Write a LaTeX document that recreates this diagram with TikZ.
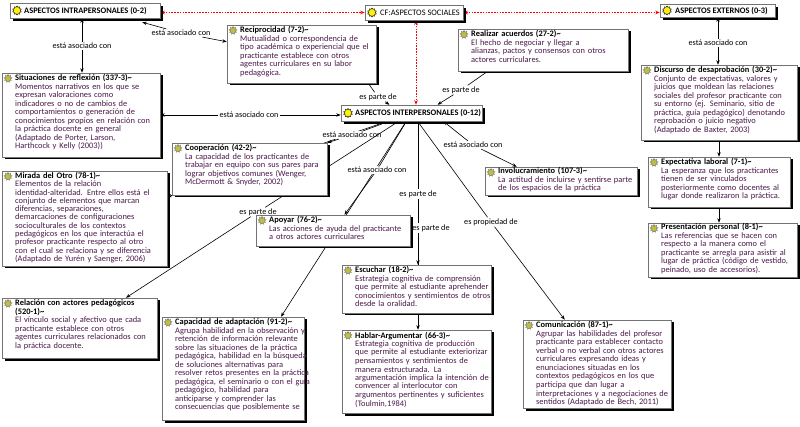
\documentclass[tikz,border=0pt]{standalone}
\usepackage{fontspec}
\setmainfont{Carlito}
\usetikzlibrary{shadows,backgrounds,fit,arrows.meta,shapes.geometric,calc}
\definecolor{bodytext}{RGB}{75,25,75}
\definecolor{boxborder}{RGB}{115,115,115}
\definecolor{iconfill}{RGB}{190,190,70}
\newcommand\bodyfnt{\fontsize{8.4}{8.5}\selectfont\lineskiplimit=-6pt\relax}
\newcommand\tightfnt{\fontsize{8.4}{8.3}\selectfont\lineskiplimit=-6pt\relax}
\newcommand\labfnt{\fontsize{8.2}{9}\selectfont}
\newcommand\ttl[1]{{\color{black}\bfseries #1}}
\begin{document}
\begin{tikzpicture}[x=1pt,y=-1pt,
  box/.style={draw=boxborder, line width=0.5pt, fill=white, inner sep=0pt,
    drop shadow={shadow xshift=2.5pt, shadow yshift=-2.5pt, opacity=1, fill=black}},
  cbox/.style={draw=black!55, line width=0.5pt, fill=white, inner sep=0pt,
    drop shadow={shadow xshift=3pt, shadow yshift=-3pt, opacity=1, fill=black}},
  txt/.style={anchor=base west, inner sep=0pt, text width=200pt, align=left, font=\bodyfnt, text=bodytext},
  ctxt/.style={anchor=base west, inner sep=0pt, font=\bodyfnt, text=black},
  lab/.style={font=\labfnt, inner sep=1pt, fill=white, text=black},
  conn/.style={line width=0.6pt, draw=black},
  tip/.style={-{Stealth[length=4.5pt,width=3.4pt]}},
  tipb/.style={{Stealth[length=4.5pt,width=3.4pt]}-},
  redl/.style={line width=0.7pt, draw=red, dash pattern=on 1.6pt off 1.2pt,
    {Stealth[length=4.5pt,width=3.5pt]}-{Stealth[length=4.5pt,width=3.5pt]}},
  ricon/.style={star, star points=9, star point ratio=1.6, minimum size=8pt, inner sep=0pt,
    fill=iconfill, draw=black!65, line width=0.3pt},
  sicon/.style={star, star points=10, star point ratio=1.35, minimum size=9pt, inner sep=0pt,
    fill=yellow, draw=black!80, line width=0.6pt}
]
\useasboundingbox (0,0) rectangle (800,427);

% ---------- concept boxes ----------
\node[cbox, fit={(10,3)(160,18)}] (intra) {};
\node[sicon] (ic_intra) at (17,10.5) {};
\node[ctxt] (t_intra) at (24,13.5) {\bfseries ASPECTOS INTRAPERSONALES (0-2)};

\node[cbox, fit={(365,5)(463,20)}] (cf) {};
\node[sicon] (ic_cf) at (372,12.5) {};
\node[ctxt] (t_cf) at (380,15.5) {CF:ASPECTOS SOCIALES};

\node[cbox, fit={(660,4)(775,17)}] (ext) {};
\node[sicon] (ic_ext) at (667,10.5) {};
\node[ctxt] (t_ext) at (675,13.5) {\bfseries ASPECTOS EXTERNOS (0-3)};

\node[cbox, fit={(341,105)(482,121)}] (inter) {};
\node[sicon] (ic_inter) at (348,113) {};
\node[ctxt] (t_inter) at (355,116) {\bfseries ASPECTOS INTERPERSONALES (0-12)};

% ---------- resource boxes ----------
\node[box, fit={(227,25)(376,83)}] (recip) {};
\node[ricon] (ic_recip) at (233,30.5) {};
\node[txt] (t_recip) at (240,33) {\ttl{Reciprocidad (7-2)\textasciitilde}\\
Mutualidad o correspondencia de\\
tipo académica o experiencial que el\\
practicante establece con otros\\
agentes curriculares en su labor\\
pedagógica.};

\node[box, fit={(458,29)(628,71)}] (acuer) {};
\node[ricon] (ic_acuer) at (464,34.5) {};
\node[txt] (t_acuer) at (471,37) {\ttl{Realizar acuerdos (27-2)\textasciitilde}\\
El hecho de negociar y llegar a\\
alianzas, pactos y consensos con otros\\
actores curriculares.};

\node[box, fit={(641,65)(797,140)}] (disc) {};
\node[ricon] (ic_disc) at (647,70.5) {};
\node[txt] (t_disc) at (654,73) {\ttl{Discurso de desaprobación (30-2)\textasciitilde}\\
Conjunto de expectativas, valores y\\
juicios que moldean las relaciones\\
sociales del profesor practicante con\\
su entorno (ej. Seminario, sitio de\\
práctica, guía pedagógico) denotando\\
reprobación o juicio negativo\\
(Adaptado de Baxter, 2003)};

\node[box, fit={(2,73)(160,157)}] (sit) {};
\node[ricon] (ic_sit) at (8,78.5) {};
\node[txt] (t_sit) at (15,81) {\ttl{Situaciones de reflexión (337-3)\textasciitilde}\\
Momentos narrativos en los que se\\
expresan valoraciones como\\
indicadores o no de cambios de\\
comportamientos o generación de\\
conocimientos propios en relación con\\
la práctica docente en general\\
(Adaptado de Porter, Larson,\\
Harthcock y Kelly (2003))};

\node[box, fit={(172,143)(327,195)}] (coop) {};
\node[ricon] (ic_coop) at (178,148.5) {};
\node[txt] (t_coop) at (185,151) {\ttl{Cooperación (42-2)\textasciitilde}\\
La capacidad de los practicantes de\\
trabajar en equipo con sus pares para\\
lograr objetivos comunes (Wenger,\\
McDermott \& Snyder, 2002)};

\node[box, fit={(2,171)(167,266)}] (mir) {};
\node[ricon] (ic_mir) at (8,176.5) {};
\node[txt, font=\tightfnt] (t_mir) at (15,178.5) {\ttl{Mirada del Otro (78-1)\textasciitilde}\\
Elementos de la relación\\
identidad-alteridad. Entre ellos está el\\
conjunto de elementos que marcan\\
diferencias, separaciones,\\
demarcaciones de configuraciones\\
socioculturales de los contextos\\
pedagógicos en los que interactúa el\\
profesor practicante respecto al otro\\
con el cual se relaciona y se diferencia\\
(Adaptado de Yurén y Saenger, 2006)};

\node[box, fit={(485,167)(637,195)}] (invol) {};
\node[ricon] (ic_invol) at (491,172.5) {};
\node[txt] (t_invol) at (498,174) {\ttl{Involucramiento (107-3)\textasciitilde}\\
La actitud de incluirse y sentirse parte\\
de los espacios de la práctica};

\node[box, fit={(648,157)(790,207)}] (expec) {};
\node[ricon] (ic_expec) at (654,162.5) {};
\node[txt] (t_expec) at (661,165) {\ttl{Expectativa laboral (7-1)\textasciitilde}\\
La esperanza que los practicantes\\
tienen de ser vinculados\\
posteriormente como docentes al\\
lugar donde realizaron la práctica.};

\node[box, fit={(648,223)(797,277)}] (pres) {};
\node[ricon] (ic_pres) at (654,228.5) {};
\node[txt] (t_pres) at (661,230) {\ttl{Presentación personal (8-1)\textasciitilde}\\
Las referencias que se hacen con\\
respecto a la manera como el\\
practicante se arregla para asistir al\\
lugar de práctica (código de vestido,\\
peinado, uso de accesorios).};

\node[box, fit={(256,215)(410,246)}] (apoy) {};
\node[ricon] (ic_apoy) at (262,220.5) {};
\node[txt] (t_apoy) at (269,223) {\ttl{Apoyar (76-2)\textasciitilde}\\
Las acciones de ayuda del practicante\\
a otros actores curriculares};

\node[box, fit={(2,298)(157,358)}] (rel) {};
\node[ricon] (ic_rel) at (8,303.5) {};
\node[txt] (t_rel) at (15,306) {\ttl{Relación con actores pedagógicos}\\
\ttl{(520-1)\textasciitilde}\\
El vínculo social y afectivo que cada\\
practicante establece con otros\\
agentes curriculares relacionados con\\
la práctica docente.};

\node[box, fit={(162,317)(304,420)}] (cap) {};
\node[ricon] (ic_cap) at (168,322.5) {};
\node[txt] (t_cap) at (175,325) {\ttl{Capacidad de adaptación (91-2)\textasciitilde}\\
Agrupa habilidad en la observación y\\
retención de información relevante\\
sobre las situaciones de la práctica\\
pedagógica, habilidad en la búsqueda\\
de soluciones alternativas para\\
resolver retos presentes en la práctica\\
pedagógica, el seminario o con el guía\\
pedagógico, habilidad para\\
anticiparse y comprender las\\
consecuencias que posiblemente se};

\node[box, fit={(342,265)(491,313)}] (esc) {};
\node[ricon] (ic_esc) at (348,270.5) {};
\node[txt] (t_esc) at (355,273) {\ttl{Escuchar (18-2)\textasciitilde}\\
Estrategia cognitiva de comprensión\\
que permite al estudiante aprehender\\
conocimientos y sentimientos de otros\\
desde la oralidad.};

\node[box, fit={(342,330)(491,413)}] (habl) {};
\node[ricon] (ic_habl) at (348,335.5) {};
\node[txt] (t_habl) at (355,338) {\ttl{Hablar-Argumentar (66-3)\textasciitilde}\\
Estrategia cognitiva de producción\\
que permite al estudiante exteriorizar\\
pensamientos y sentimientos de\\
manera estructurada. La\\
argumentación implica la intención de\\
convencer al interlocutor con\\
argumentos pertinentes y suficientes\\
(Toulmin,1984)};

\node[box, fit={(523,320)(671,408)}] (com) {};
\node[ricon] (ic_com) at (529,325.5) {};
\node[txt] (t_com) at (536,328) {\ttl{Comunicación (87-1)\textasciitilde}\\
Agrupar las habilidades del profesor\\
practicante para establecer contacto\\
verbal o no verbal con otros actores\\
curriculares expresando ideas y\\
enunciaciones situadas en los\\
contextos pedagógicos en los que\\
participa que dan lugar a\\
interpretaciones y a negociaciones de\\
sentidos (Adaptado de Bech, 2011)};

\coordinate (vx) at (418,121);

% ---------- connectors ----------
\begin{pgfonlayer}{background}
\fill[white] (0,0) rectangle (800,427);
% lines partly hidden behind boxes or labels
\draw[conn,tip] (inter) -- ([yshift=21.5pt]mir.east);
\draw[conn,tip] (inter) -- ([xshift=48pt]cap.north);
\draw[conn,tip] (vx) -- (vx |- esc.north);
\draw[conn,tip] (vx) -- (vx |- habl.north);
% linking phrases
\node[lab] (L4) at (82,46) {está asociado con};
\node[lab] (L5) at (181,33) {está asociado con};
\node[lab] (L6) at (249,115) {está asociado con};
\node[lab] (L7) at (378,97) {es parte de};
\node[lab] (L8) at (461,90) {es parte de};
\node[lab] (L9) at (352,135) {está asociado con};
\node[lab] (L10) at (258,212) {es parte de};
\node[lab] (L11) at (377,170) {está asociado con};
\node[lab] (L12) at (418,194) {es parte de};
\node[lab] (L13) at (431,228) {es parte de};
\node[lab] (L14) at (473,145) {está asociado con};
\node[lab] (L15) at (491,222) {es propiedad de};
\node[lab] (L16) at (718,43) {está asociado con};
% red links
\draw[redl] (cf.west -| intra.east) -- (cf.west);
\draw[redl] (cf.east) -- (cf.east -| ext.west);
\draw[redl] ([xshift=2pt]cf.south) -- ([xshift=2pt]cf.south |- inter.north);
% black links
\draw[conn,tipb] (L4 |- intra.south) -- (L4);
\draw[conn,tip] (L4) -- (L4 |- sit.north);
\draw[conn,tipb] ([xshift=-18pt,yshift=-4pt]intra.south east) -- (L5);
\draw[conn,tip] (L5) -- ([yshift=-17pt]recip.north west);
\draw[conn,tipb] (L6 -| sit.east) -- (L6);
\draw[conn,tip] (L6) -- (L6 -| inter.west);
\draw[conn] ([xshift=-8pt]recip.south east) -- (L7);
\draw[conn,tip] (L7) -- ([xshift=-22pt]inter.north);
\draw[conn] ([xshift=30pt]acuer.south west) -- (L8);
\draw[conn,tip] (L8) -- ([xshift=26pt]inter.north);
\draw[conn,tipb] (coop.north east) -- (L9);
\draw[conn,tip] (L9) -- (inter);
\draw[conn] (inter) -- (L10);
\draw[conn,tip] (L10) -- (rel);
\draw[conn] (inter) -- (L11);
\draw[conn,tip] (L11) -- (apoy);
\draw[conn,tipb] ([xshift=-39pt]inter.south east) -- (L14);
\draw[conn,tip] (L14) -- ([xshift=32pt]invol.north west);
\draw[conn] (inter) -- (L15);
\draw[conn,tip] (L15) -- ([xshift=42pt]com.north west);
\draw[conn,tipb] (L16 |- ext.south) -- (L16);
\draw[conn,tip] (L16) -- (L16 |- disc.north);
\draw[conn,tip] (disc.south) -- (disc.south |- expec.north);
\draw[conn,tip] (expec.south) -- (expec.south |- pres.north);
\end{pgfonlayer}
\end{tikzpicture}
\end{document}
